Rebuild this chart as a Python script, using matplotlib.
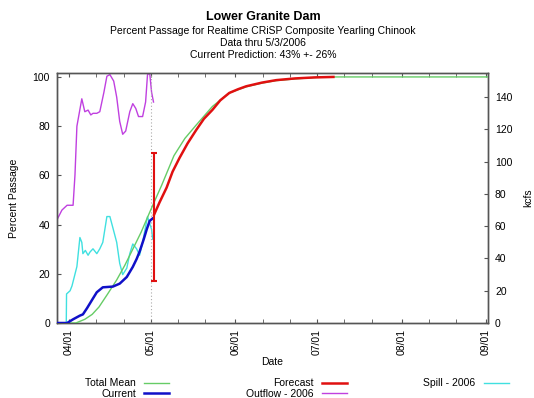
import datetime as dt
import matplotlib
matplotlib.use("Agg")
import matplotlib.pyplot as plt
import matplotlib.dates as mdates
from matplotlib.lines import Line2D

plt.rcParams['font.family'] = ['Liberation Sans', 'DejaVu Sans']

# ---- data (day offsets from 2006-04-01) ----
START = dt.datetime(2006, 4, 1)

mean_days = [-4.4, 2.5, 5.8, 8.5, 11, 14, 17.5, 20.5, 23.4, 26.5, 29.6, 31, 34, 38.5,
             42.5, 46.7, 52.6, 58.8, 65, 70.8, 76, 83, 92.7, 153.5]
mean_pct = [0, 0, 1.5, 3.5, 6.5, 11.5, 17.5, 23.5, 30, 37, 45, 48.5, 56, 68,
            75, 80.5, 88, 93.5, 96, 97.5, 98.5, 99.2, 100, 100]

current_days = [-4.4, -0.7, 1.5, 4.0, 5.1, 6.6, 7.7, 8.8, 10.2, 11.3, 12.4, 16.1, 18.6,
                21.2, 23.4, 24.8, 25.9, 27.4, 28.5, 29.6, 30.7]
current_pct = [0, 0, 1.5, 3, 3.5, 6, 8, 10, 12.5, 13.5, 14.5, 14.8, 16,
               18.7, 22.8, 26, 29, 34, 38, 41.5, 42.5]

forecast_days = [31.2, 33.2, 35.8, 38, 40.5, 43.5, 46.7, 49.5, 52.6, 55.5, 58.8, 62, 65,
                 70.8, 76, 83, 90, 97]
forecast_pct = [44, 49, 55, 61.5, 67, 73, 78.5, 83, 86.6, 90.5, 93.5, 95, 96.2,
                97.7, 98.7, 99.4, 99.8, 100]

outflow_days = [-4.4, -2.6, -0.7, 1.5, 2.2, 2.9, 4.7, 5.8, 7.0, 8.0, 8.8, 10.2, 11.3, 12.8,
                13.9, 15.0, 16.4, 17.5, 18.6, 19.7, 20.8, 22.3, 23.4, 24.5, 25.5, 27.0,
                28.1, 28.8, 29.6, 30.3, 31.0]
outflow_kcfs = [64, 70, 73, 73, 92, 122, 139, 131, 132, 129, 130, 130, 131, 143,
                153, 154, 150, 140, 125, 117, 119, 131, 136, 133, 128, 128,
                137, 154, 155, 143, 137]

spill_days = [-4.4, -1.0, -0.9, 0.4, 1.1, 2.9, 4.0, 4.7, 5.1, 6.0, 7.0, 7.7, 8.8, 10.2, 11.3,
              12.4, 13.9, 15.0, 16.1, 17.5, 18.6, 19.7, 21.2, 22.3, 23.4, 24.8, 25.9,
              27.0, 28.8, 30.3, 30.7]
spill_kcfs = [0, 0, 18, 20, 23, 35, 53, 50, 43, 45, 42, 44, 46, 43, 46,
              50, 66, 66, 59, 50, 37, 30, 34, 43, 49, 46, 42,
              50, 66, 58, 52]

prediction = 43
prediction_err = 26
prediction_day = 31.2
data_thru_day = 30

x_major = ['04/01', '05/01', '06/01', '07/01', '08/01', '09/01']

# ---- figure ----
fig = plt.figure(figsize=(5.34, 3.98), dpi=100)
ax = fig.add_axes([57/534, 1-323/398, (488-57)/534, (323-73)/398])
ax2 = ax.twinx()

def to_dates(days):
    base = mdates.date2num(START)
    return [base + d for d in days]

col_mean = '#66cc66'
col_cur = '#1010c8'
col_fc = '#e01010'
col_out = '#c040e0'
col_spill = '#40e0e0'

ax2.plot(to_dates(outflow_days), outflow_kcfs, color=col_out, lw=1.0)
ax2.plot(to_dates(spill_days), spill_kcfs, color=col_spill, lw=1.0)
ax2.set_ylim(0, 155)

ax.axvline(to_dates([data_thru_day])[0], color='#aaaaaa', lw=0.8, ls=(0, (1, 2)))
ax.plot(to_dates(mean_days), mean_pct, color=col_mean, lw=1.0, zorder=3)
ax.plot(to_dates(current_days), current_pct, color=col_cur, lw=1.8, zorder=4)
ax.plot(to_dates(forecast_days), forecast_pct, color=col_fc, lw=1.8, zorder=4)
ax.errorbar(to_dates([prediction_day]), [prediction], yerr=[prediction_err],
            color=col_fc, lw=1.5, capsize=2.5, capthick=1.5, fmt='none', zorder=5)

ax.set_zorder(ax2.get_zorder() + 1)
ax.patch.set_visible(False)

ax.set_xlim(mdates.date2num(START) - 4.4, mdates.date2num(START) + 153.7)
ax.set_ylim(0, 101.6)
ax.set_yticks([0, 20, 40, 60, 80, 100])
ax2.set_yticks([0, 20, 40, 60, 80, 100, 120, 140])

major_dates = [dt.datetime(2006, int(s[:2]), int(s[3:])) for s in x_major]
ax.set_xticks([mdates.date2num(d) for d in major_dates])
ax.set_xticklabels(x_major, rotation=90)
minor = []
for m in range(4, 9):
    for d in (11, 21):
        minor.append(mdates.date2num(dt.datetime(2006, m, d)))
ax.set_xticks(minor, minor=True)

for a in (ax, ax2):
    for s in a.spines.values():
        s.set_color('#555555')
        s.set_linewidth(1.0)
ax.tick_params(axis='x', which='both', direction='in', top=True, length=3,
               labelsize=7.5, pad=4, color='#555555')
ax.tick_params(axis='y', direction='in', length=3, labelsize=7.5, pad=5, color='#555555')
ax2.tick_params(axis='y', direction='in', length=3, labelsize=7.5, pad=5, color='#555555')

ax.set_ylabel('Percent Passage', fontsize=7.5, labelpad=10)
ax2.set_ylabel('kcfs', fontsize=7.5, labelpad=8)
ax.set_xlabel('Date', fontsize=7.5, labelpad=2)

fig.text(263/534, 1-17/398, 'Lower Granite Dam', ha='center', va='center',
         fontsize=9, fontweight='bold')
fig.text(263/534, 1-31/398, 'Percent Passage for Realtime CRiSP Composite Yearling Chinook',
         ha='center', va='center', fontsize=7.5)
fig.text(263/534, 1-43.5/398, 'Data thru 5/3/2006', ha='center', va='center', fontsize=7.5)
fig.text(263/534, 1-55.5/398, 'Current Prediction: 43% +- 26%', ha='center', va='center',
         fontsize=7.5)

handles = [Line2D([], [], color=col_mean, lw=1.0),
           Line2D([], [], color=col_cur, lw=1.8),
           Line2D([], [], color=col_fc, lw=1.8),
           Line2D([], [], color=col_out, lw=1.0),
           Line2D([], [], color=col_spill, lw=1.0)]
labels = ['Total Mean', 'Current', 'Forecast', 'Outflow - 2006', 'Spill - 2006']
fig.legend(handles, labels, ncol=3, markerfirst=False, frameon=False,
           loc='upper left', bbox_to_anchor=(80/534, 1-373/398), fontsize=7.5,
           handlelength=2.4, handletextpad=0.8, labelspacing=0.08, columnspacing=7.35,
           borderpad=0)

fig.savefig('out.png', dpi=100)
